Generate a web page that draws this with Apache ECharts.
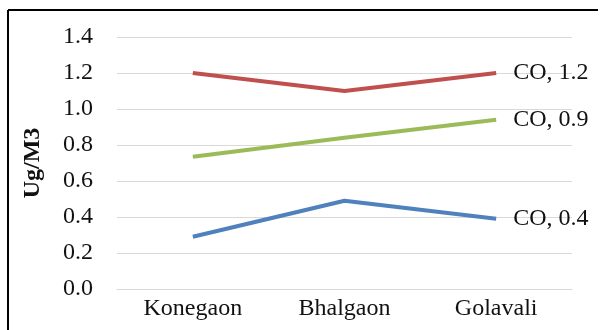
<!DOCTYPE html>
<html>
<head>
<meta charset="utf-8">
<script src="https://cdn.jsdelivr.net/npm/echarts@6/dist/echarts.min.js"></script>
<style>
html,body{margin:0;padding:0;background:#fff;}
#chart{width:601px;height:330px;}
</style>
</head>
<body>
<div id="chart"></div>
<script>
const categories = ['Konegaon', 'Bhalgaon', 'Golavali'];
const seriesNames = ['CO', 'CO', 'CO'];
const redValues = [1.2, 1.1, 1.2];
const greenValues = [0.735, 0.84, 0.94];
const blueValues = [0.29, 0.49, 0.39];
const yTicks = [0, 0.2, 0.4, 0.6, 0.8, 1.0, 1.2, 1.4];

const font = '"Liberation Serif", "Times New Roman", serif';
const chart = echarts.init(document.getElementById('chart'));

function mkSeries(name, data, color) {
  return {
    name: name,
    type: 'line',
    data: data,
    symbol: 'none',
    lineStyle: { color: color, width: 4 },
    itemStyle: { color: color },
    endLabel: {
      show: true,
      distance: 17,
      fontFamily: font,
      fontSize: 24,
      color: '#111',
      formatter: function (p) { return name + ', ' + p.value.toFixed(1); }
    }
  };
}

chart.setOption({
  animation: false,
  backgroundColor: '#fff',
  grid: { left: 117, right: 29, top: 37, bottom: 41 },
  xAxis: {
    type: 'category',
    data: categories,
    boundaryGap: true,
    axisLine: { show: true, lineStyle: { color: '#d9d9d9', width: 1 } },
    axisTick: { show: false },
    axisLabel: { fontFamily: font, fontSize: 24, color: '#111', margin: 8 }
  },
  yAxis: {
    type: 'value',
    min: 0,
    max: 1.4,
    interval: 0.2,
    name: 'Ug/M3',
    nameLocation: 'middle',
    nameGap: 72,
    nameTextStyle: { fontFamily: font, fontSize: 24, fontWeight: 'bold', color: '#111' },
    axisLine: { show: false },
    axisTick: { show: false },
    splitLine: { lineStyle: { color: '#d9d9d9', width: 1 } },
    axisLabel: {
      fontFamily: font, fontSize: 24, color: '#111', margin: 24,
      formatter: function (v) { return v.toFixed(1); }
    }
  },
  series: [
    mkSeries(seriesNames[0], redValues, '#C0504D'),
    mkSeries(seriesNames[1], greenValues, '#9BBB59'),
    mkSeries(seriesNames[2], blueValues, '#4F81BD')
  ],
  graphic: [
    { type: 'line', shape: { x1: 8, y1: 10, x2: 598, y2: 10 }, style: { stroke: '#000', lineWidth: 2 } },
    { type: 'line', shape: { x1: 8, y1: 10, x2: 8, y2: 330 }, style: { stroke: '#000', lineWidth: 2 } }
  ]
});
</script>
</body>
</html>
